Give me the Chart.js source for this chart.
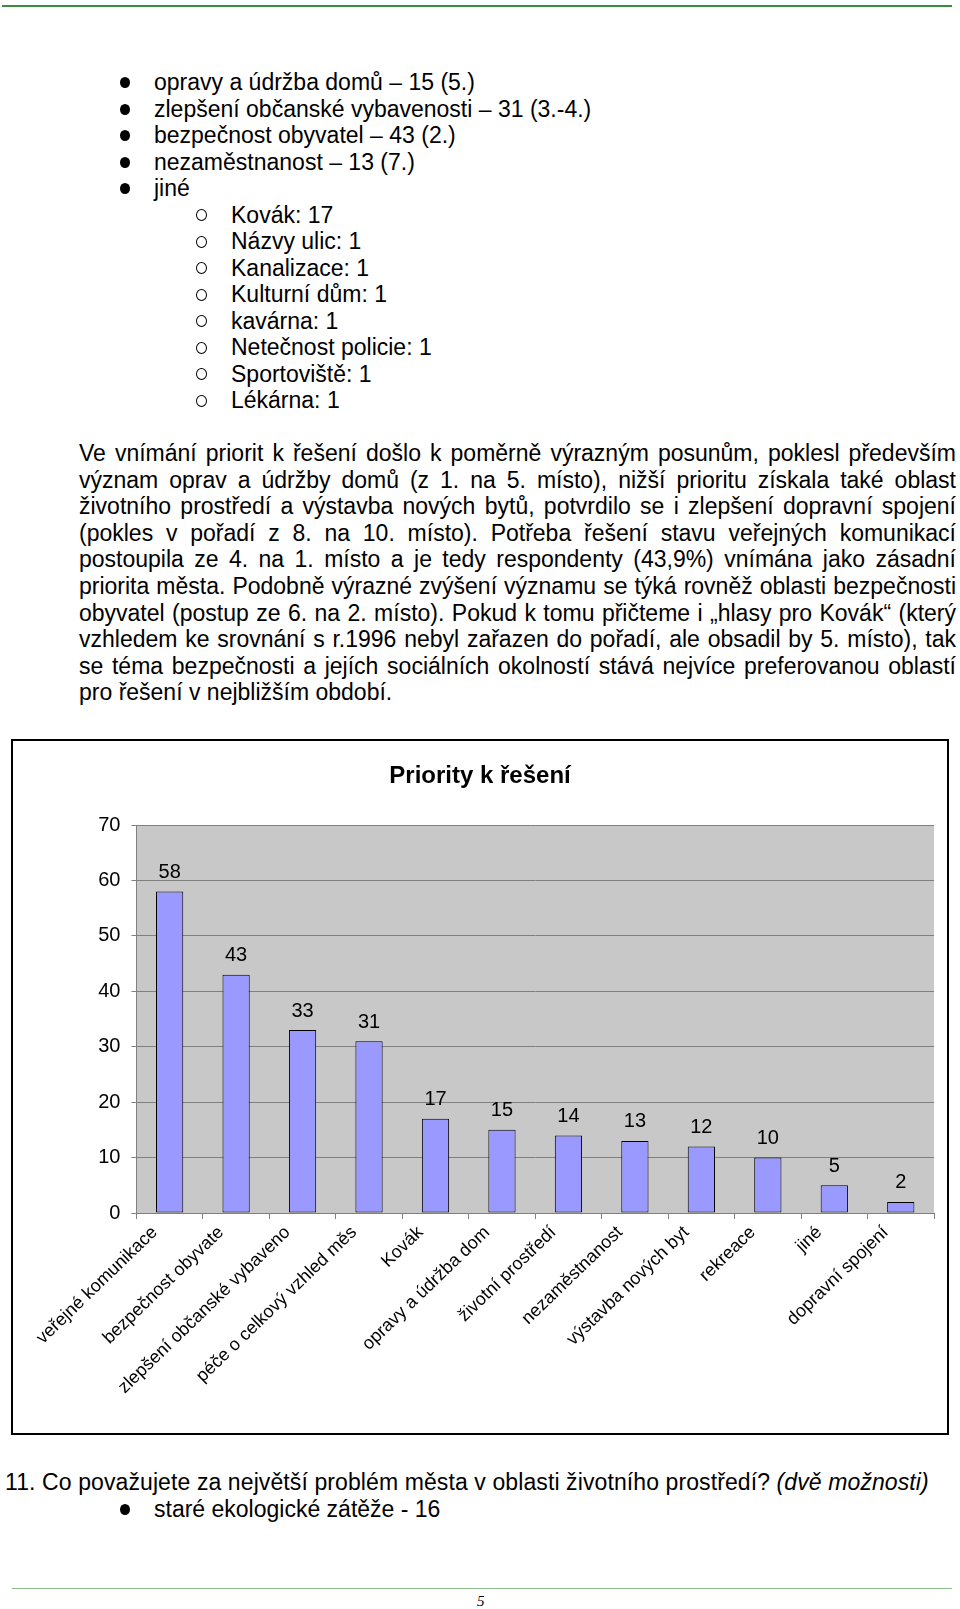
<!DOCTYPE html>
<html lang="cs">
<head>
<meta charset="utf-8">
<title>Priority k řešení</title>
<script src="https://cdn.jsdelivr.net/npm/chart.js@4.4.1/dist/chart.umd.min.js"></script>
<style>
  html, body { margin: 0; padding: 0; background: #fff; }
  body {
    position: relative;
    width: 960px;
    height: 1609px;
    overflow: hidden;
    font-family: 'Liberation Sans', Arial, sans-serif;
    font-size: 23px;
    color: #000;
  }
  .rule-top { position: absolute; left: 2px; top: 5px; width: 950px; height: 2px; background: #3d8b3d; }
  .rule-bottom { position: absolute; left: 12px; top: 1588px; width: 940px; height: 1px; background: #8fbc8f; }
  .page-no { position: absolute; left: 477px; top: 1593px; font: italic 15px 'Liberation Serif', serif; }

  .block { position: absolute; }
  .line { height: 26.5px; line-height: 26.5px; white-space: pre; position: relative; }
  .b1 { padding-left: 154px; }
  .b1::before {
    content: ''; position: absolute; left: 120px; top: 8px;
    width: 10px; height: 11px; border-radius: 50%; background: #000;
  }
  .b2 { padding-left: 231px; }
  .b2::before {
    content: ''; position: absolute; left: 196px; top: 7.5px;
    width: 9px; height: 10px; border: 1.4px solid #000; border-radius: 50%;
  }

  .para { left: 79px; top: 440px; width: 877px; }
  .para .j { height: 26.6px; line-height: 26.6px; text-align: justify; text-align-last: justify; }
  .para .last { text-align: left; text-align-last: left; }

  .chart-box {
    position: absolute; left: 11px; top: 739px;
    width: 938px; height: 696px;
    box-sizing: border-box; border: 2px solid #000; background: #fff;
  }
  .chart-box canvas { display: block; }
</style>
</head>
<body>
<div class="rule-top"></div>

<div class="block" style="left:0; top:69px;">
  <div class="line b1">opravy a údržba domů – 15 (5.)</div>
  <div class="line b1">zlepšení občanské vybavenosti – 31 (3.-4.)</div>
  <div class="line b1">bezpečnost obyvatel – 43 (2.)</div>
  <div class="line b1">nezaměstnanost – 13 (7.)</div>
  <div class="line b1">jiné</div>
  <div class="line b2">Kovák: 17</div>
  <div class="line b2">Názvy ulic: 1</div>
  <div class="line b2">Kanalizace: 1</div>
  <div class="line b2">Kulturní dům: 1</div>
  <div class="line b2">kavárna: 1</div>
  <div class="line b2">Netečnost policie: 1</div>
  <div class="line b2">Sportoviště: 1</div>
  <div class="line b2">Lékárna: 1</div>
</div>

<div class="block para">
  <div class="j">Ve vnímání priorit k řešení došlo k poměrně výrazným posunům, poklesl především</div>
  <div class="j">význam oprav a údržby domů (z 1. na 5. místo), nižší prioritu získala také oblast</div>
  <div class="j">životního prostředí a výstavba nových bytů, potvrdilo se i zlepšení dopravní spojení</div>
  <div class="j">(pokles v pořadí z 8. na 10. místo). Potřeba řešení stavu veřejných komunikací</div>
  <div class="j">postoupila ze 4. na 1. místo a je tedy respondenty (43,9%) vnímána jako zásadní</div>
  <div class="j">priorita města. Podobně výrazné zvýšení významu se týká rovněž oblasti bezpečnosti</div>
  <div class="j">obyvatel (postup ze 6. na 2. místo). Pokud k tomu přičteme i „hlasy pro Kovák“ (který</div>
  <div class="j">vzhledem ke srovnání s r.1996 nebyl zařazen do pořadí, ale obsadil by 5. místo), tak</div>
  <div class="j">se téma bezpečnosti a jejích sociálních okolností stává nejvíce preferovanou oblastí</div>
  <div class="j last">pro řešení v nejbližším období.</div>
</div>

<div class="chart-box">
  <canvas id="priority-canvas" width="934" height="692"></canvas>
</div>

<div class="block" style="left:5px; top:1469px;">
  <div class="line" style="letter-spacing:0.1px">11. Co považujete za největší problém města v oblasti životního prostředí? <i>(dvě možnosti)</i></div>
</div>
<div class="block" style="left:0; top:1495.5px;">
  <div class="line b1">staré ekologické zátěže - 16</div>
</div>

<div class="rule-bottom"></div>
<div class="page-no">5</div>

<script>
// Categories as printed under the axis (the source clips the longer names).
const categories = [
    'veřejné komunikace',
    'bezpečnost obyvate',
    'zlepšení občanské vybaveno',
    'péče o celkový vzhled měs',
    'Kovák',
    'opravy a údržba dom',
    'životní prostředí',
    'nezaměstnanost',
    'výstavba nových byt',
    'rekreace',
    'jiné',
    'dopravní spojení',
];

// Number of answers for each category.
const counts = [58, 43, 33, 31, 17, 15, 14, 13, 12, 10, 5, 2];

// Value axis range.
const yMin = 0;
const yMax = 70;
const yStep = 10;

Chart.defaults.font.family = "'Liberation Sans', Arial, sans-serif";
Chart.defaults.color = '#000000';

// Grey plot area, like the old Excel default.
const plotBackground = {
    id: 'plotBackground',
    beforeDraw(chart) {
        const {ctx, chartArea} = chart;
        ctx.save();
        ctx.fillStyle = '#c8c8c8';
        ctx.fillRect(chartArea.left, chartArea.top,
            chartArea.right - chartArea.left, chartArea.bottom - chartArea.top);
        ctx.restore();
    }
};

// Write the value above each bar.
const barValues = {
    id: 'barValues',
    afterDatasetsDraw(chart) {
        const ctx = chart.ctx;
        const meta = chart.getDatasetMeta(0);
        ctx.save();
        ctx.font = "20px 'Liberation Sans', Arial, sans-serif";
        ctx.fillStyle = '#000';
        ctx.textAlign = 'center';
        ctx.textBaseline = 'alphabetic';
        meta.data.forEach((bar, i) => {
            ctx.fillText(String(counts[i]), bar.x, bar.y - 13.5);
        });
        ctx.restore();
    }
};

new Chart(document.getElementById('priority-canvas'), {
    type: 'bar',
    data: {
        labels: categories,
        datasets: [{
            data: counts,
            backgroundColor: '#9999ff',
            borderColor: '#000000',
            borderWidth: 1,
            borderSkipped: false,
            barPercentage: 0.41,
            categoryPercentage: 1.0
        }]
    },
    options: {
        responsive: false,
        animation: false,
        devicePixelRatio: 1,
        layout: {
            // equal side padding keeps the title centred in the frame
            padding: {left: 13, right: 13, top: 0, bottom: 0}
        },
        plugins: {
            legend: {display: false},
            tooltip: {enabled: false},
            title: {
                display: true,
                text: 'Priority k řešení',
                color: '#000',
                font: {size: 24, weight: 'bold'},
                padding: {top: 21, bottom: 34.2}
            }
        },
        scales: {
            x: {
                grid: {
                    drawOnChartArea: false,
                    offset: true,
                    tickLength: 6,
                    color: '#808080'
                },
                border: {color: '#808080'},
                ticks: {
                    autoSkip: false,
                    maxRotation: 44,
                    minRotation: 44,
                    padding: 3,
                    labelOffset: -15,
                    font: {size: 18}
                },
                afterFit(scale) {
                    scale.height = 220;
                }
            },
            y: {
                min: yMin,
                max: yMax,
                ticks: {
                    stepSize: yStep,
                    padding: 11,
                    font: {size: 20}
                },
                grid: {
                    color: '#808080',
                    tickLength: 5
                },
                border: {color: '#808080'},
                afterFit(scale) {
                    scale.width = 110.4;
                }
            }
        }
    },
    plugins: [plotBackground, barValues]
});
</script>
</body>
</html>
